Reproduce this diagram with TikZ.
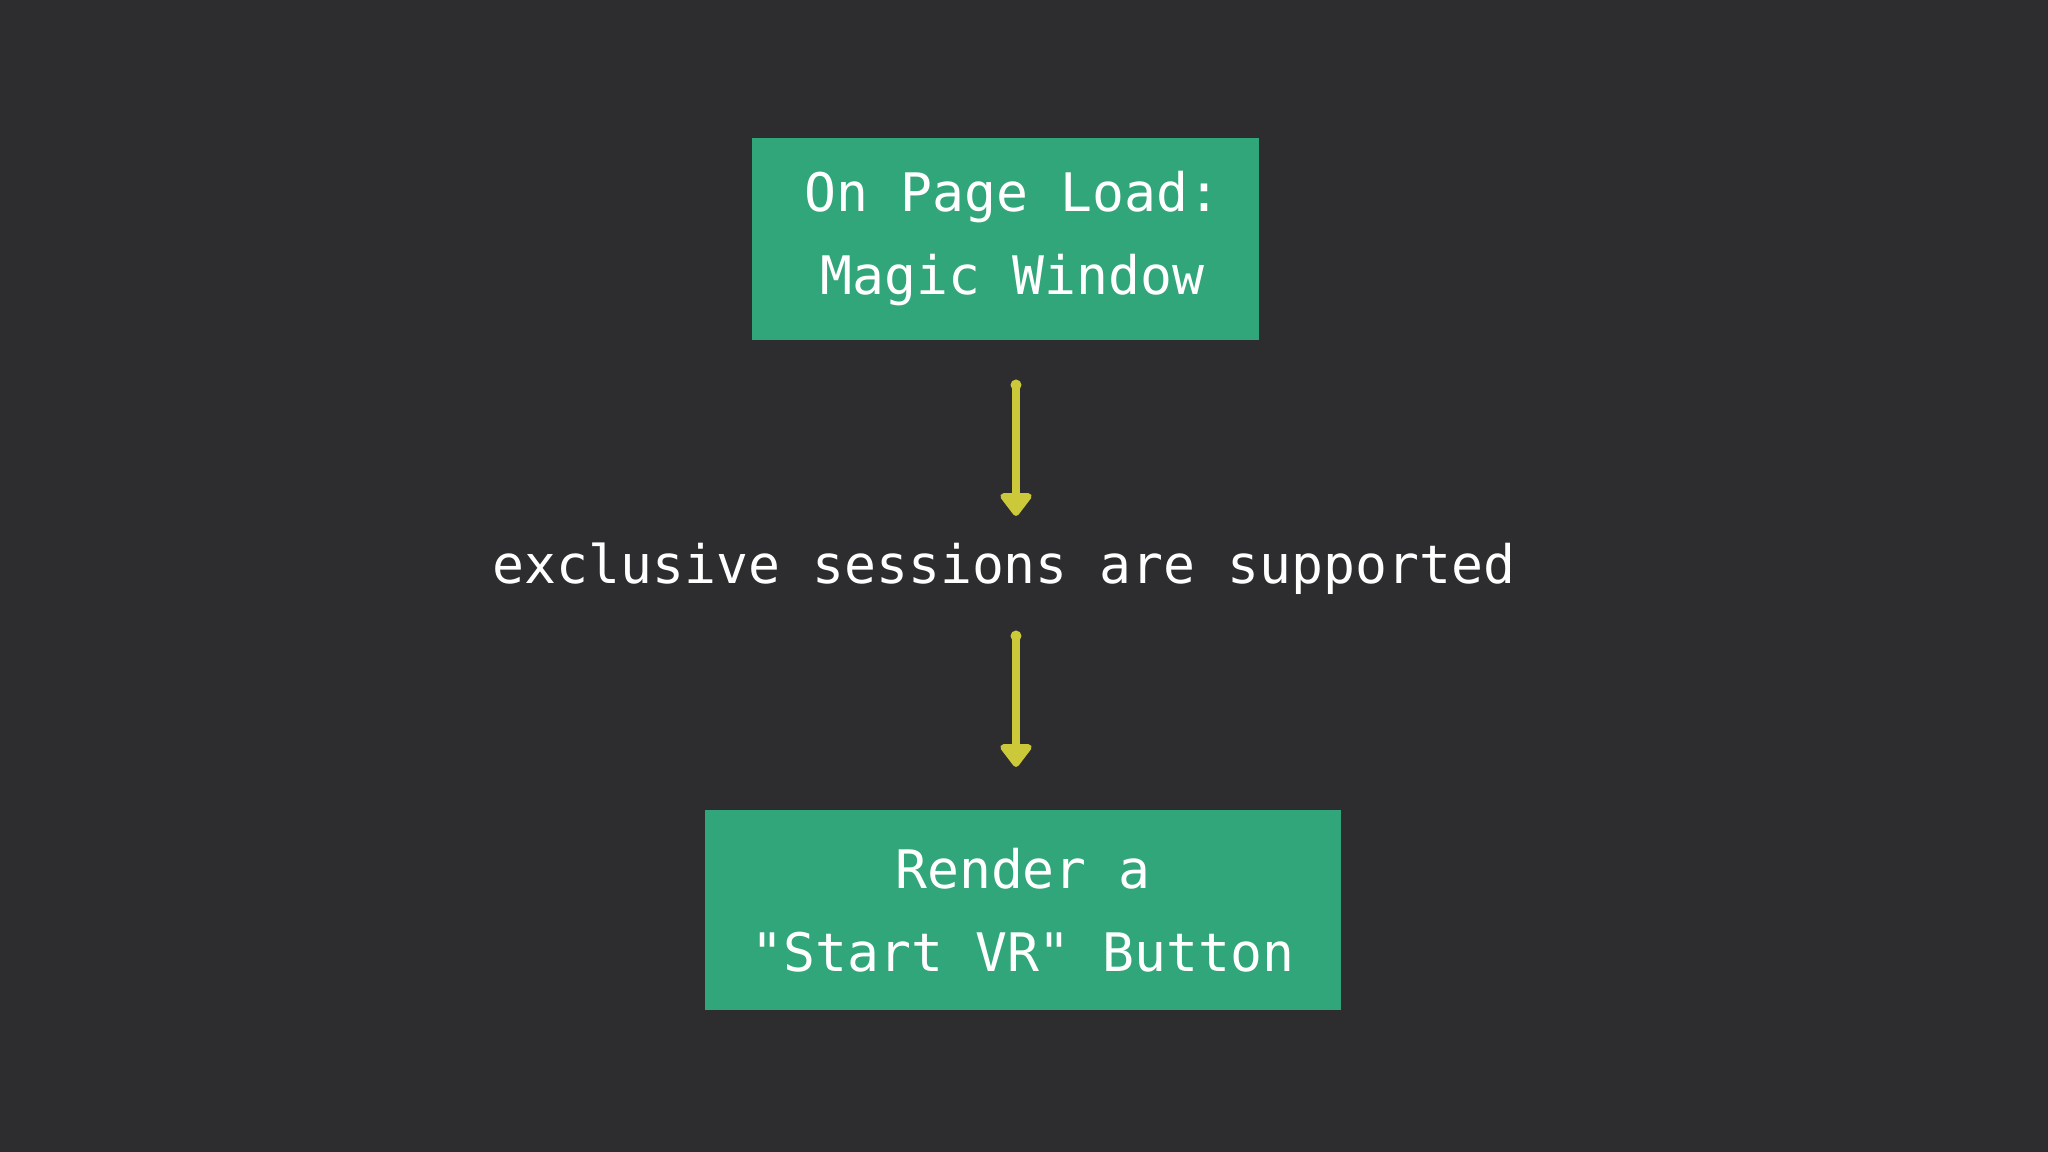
\documentclass[tikz,border=0pt]{standalone}
\usepackage{xcolor}
\usepackage{fontspec}
\setmonofont{DejaVu Sans Mono}
\usetikzlibrary{arrows.meta}

\definecolor{bgdark}{HTML}{2D2C2E}
\definecolor{boxgreen}{HTML}{31A67A}
\definecolor{arrowyellow}{HTML}{CBC83A}

\tikzset{
  stepbox/.style={fill=boxgreen, text=white, align=center, inner sep=0pt,
    font=\ttfamily\fontsize{15.1}{23.6}\selectfont},
  flow/.style={arrowyellow, line width=2pt, line cap=round,
    -{Triangle[width=0.36cm, length=0.25cm, round]}}
}

\begin{document}
\begin{tikzpicture}
\fill[bgdark] (0,0) rectangle (20.48,11.52);
\useasboundingbox (0,0) rectangle (20.48,11.52);

\node[stepbox, minimum width=5.07cm, minimum height=2.02cm] (load) at (10.055, 9.13) {\hspace*{0.14cm}On Page Load:\\\hspace*{0.14cm}Magic Window};
\node[text=white, inner sep=0pt, anchor=base, font=\ttfamily\fontsize{15.1}{18}\selectfont] (supported) at (10.04, 5.68) {exclusive sessions are supported};
\node[stepbox, minimum width=6.36cm, minimum height=2.00cm] (render) at (10.23, 2.42) {Render a\\"Start VR" Button};

\coordinate (a1) at (10.16, 7.67);
\coordinate (a2) at (10.16, 6.36);
\coordinate (b1) at (10.16, 5.16);
\coordinate (b2) at (10.16, 3.85);

\draw[flow] (a1) -- (a2);
\draw[flow] (b1) -- (b2);
\fill[arrowyellow] (a1) circle (0.055);
\fill[arrowyellow] (b1) circle (0.055);
\end{tikzpicture}
\end{document}
